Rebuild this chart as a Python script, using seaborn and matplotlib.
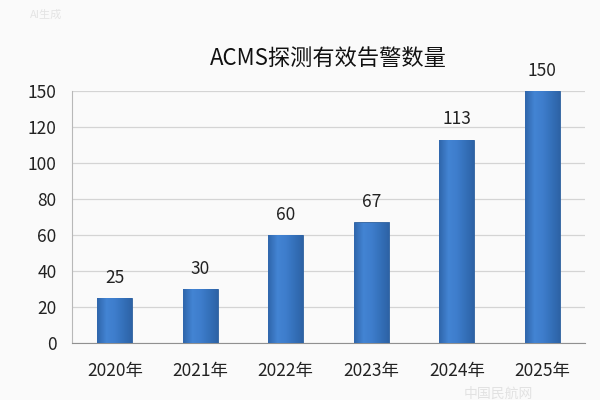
import numpy as np
import matplotlib
matplotlib.use("Agg")
import matplotlib.pyplot as plt
import seaborn as sns
from matplotlib.colors import LinearSegmentedColormap

# 数据
years = ["2020年", "2021年", "2022年", "2023年", "2024年", "2025年"]
alerts = [25, 30, 60, 67, 113, 150]
yticks = [0, 20, 40, 60, 80, 100, 120, 150]
title = "ACMS探测有效告警数量"

sns.set_style("white")
plt.rcParams['font.family'] = ['Noto Sans CJK SC', 'DejaVu Sans']

# 原图纵轴 120 到 150 这一段被压缩成和其他刻度一样的间距
def fwd(y):
    y = np.asarray(y, dtype=float)
    return np.where(y <= 120, y, 120 + (y - 120) * 2 / 3)

def inv(y):
    y = np.asarray(y, dtype=float)
    return np.where(y <= 120, y, 120 + (y - 120) * 3 / 2)

fig = plt.figure(figsize=(6, 4), dpi=100, facecolor="#fafafa")
ax = fig.add_axes([0.12, 0.1425, 0.855, 0.63])
ax.set_facecolor("#fafafa")

sns.barplot(x=years, y=alerts, color="#3f7fcf", width=0.41, ax=ax,
            edgecolor="#2c5f9e", linewidth=0.6, zorder=3)
ax.set_yscale("function", functions=(fwd, inv))

# 柱子渐变
cmap = LinearSegmentedColormap.from_list("bar", ["#3067ad", "#4384d3", "#3e7dcc", "#3470b9", "#2d62a5"])
grad = np.linspace(0, 1, 64).reshape(1, -1)
for p in ax.patches:
    x0, y0 = p.get_x(), p.get_y()
    w, h = p.get_width(), p.get_height()
    im = ax.imshow(grad, cmap=cmap, aspect="auto", extent=[x0, x0 + w, y0, y0 + h], zorder=3.5)
    im.set_clip_path(p)

ax.set_xlim(-0.5, len(years) - 0.5)
ax.set_ylim(0, 150)
ax.set_yticks(yticks)
ax.set_yticklabels([str(t) for t in yticks])
ax.yaxis.set_minor_locator(matplotlib.ticker.NullLocator())
ax.yaxis.grid(True, color="#d4d4d4", linewidth=0.9, zorder=0)

for i, v in enumerate(alerts):
    ax.annotate(str(v), (i, v), xytext=(0, 8), textcoords="offset points",
                ha="center", va="bottom", fontsize=12.5, color="#222222")

ax.set_title(title, fontsize=16, pad=19, color="#111111")

for s in ["top", "right"]:
    ax.spines[s].set_visible(False)
ax.spines["left"].set_color("#b8b8b8")
ax.spines["bottom"].set_color("#909090")

ax.set_xticks(np.arange(-0.5, len(years)), minor=True)
ax.tick_params(axis="x", which="major", length=0, labelsize=12.5, pad=14, colors="#222222")
ax.tick_params(axis="x", which="minor", length=5, color="#909090", direction="out")
ax.tick_params(axis="y", length=5, labelsize=12.5, pad=6, labelcolor="#222222", color="#b8b8b8")

# 水印
fig.text(0.05, 0.955, "AI生成", fontsize=8, color="#e4e4e4")
fig.text(0.83, 0.005, "中国民航网", fontsize=10, color="#d8d8d8", ha="center", alpha=0.7)

fig.savefig("out.png", dpi=100, facecolor=fig.get_facecolor())
